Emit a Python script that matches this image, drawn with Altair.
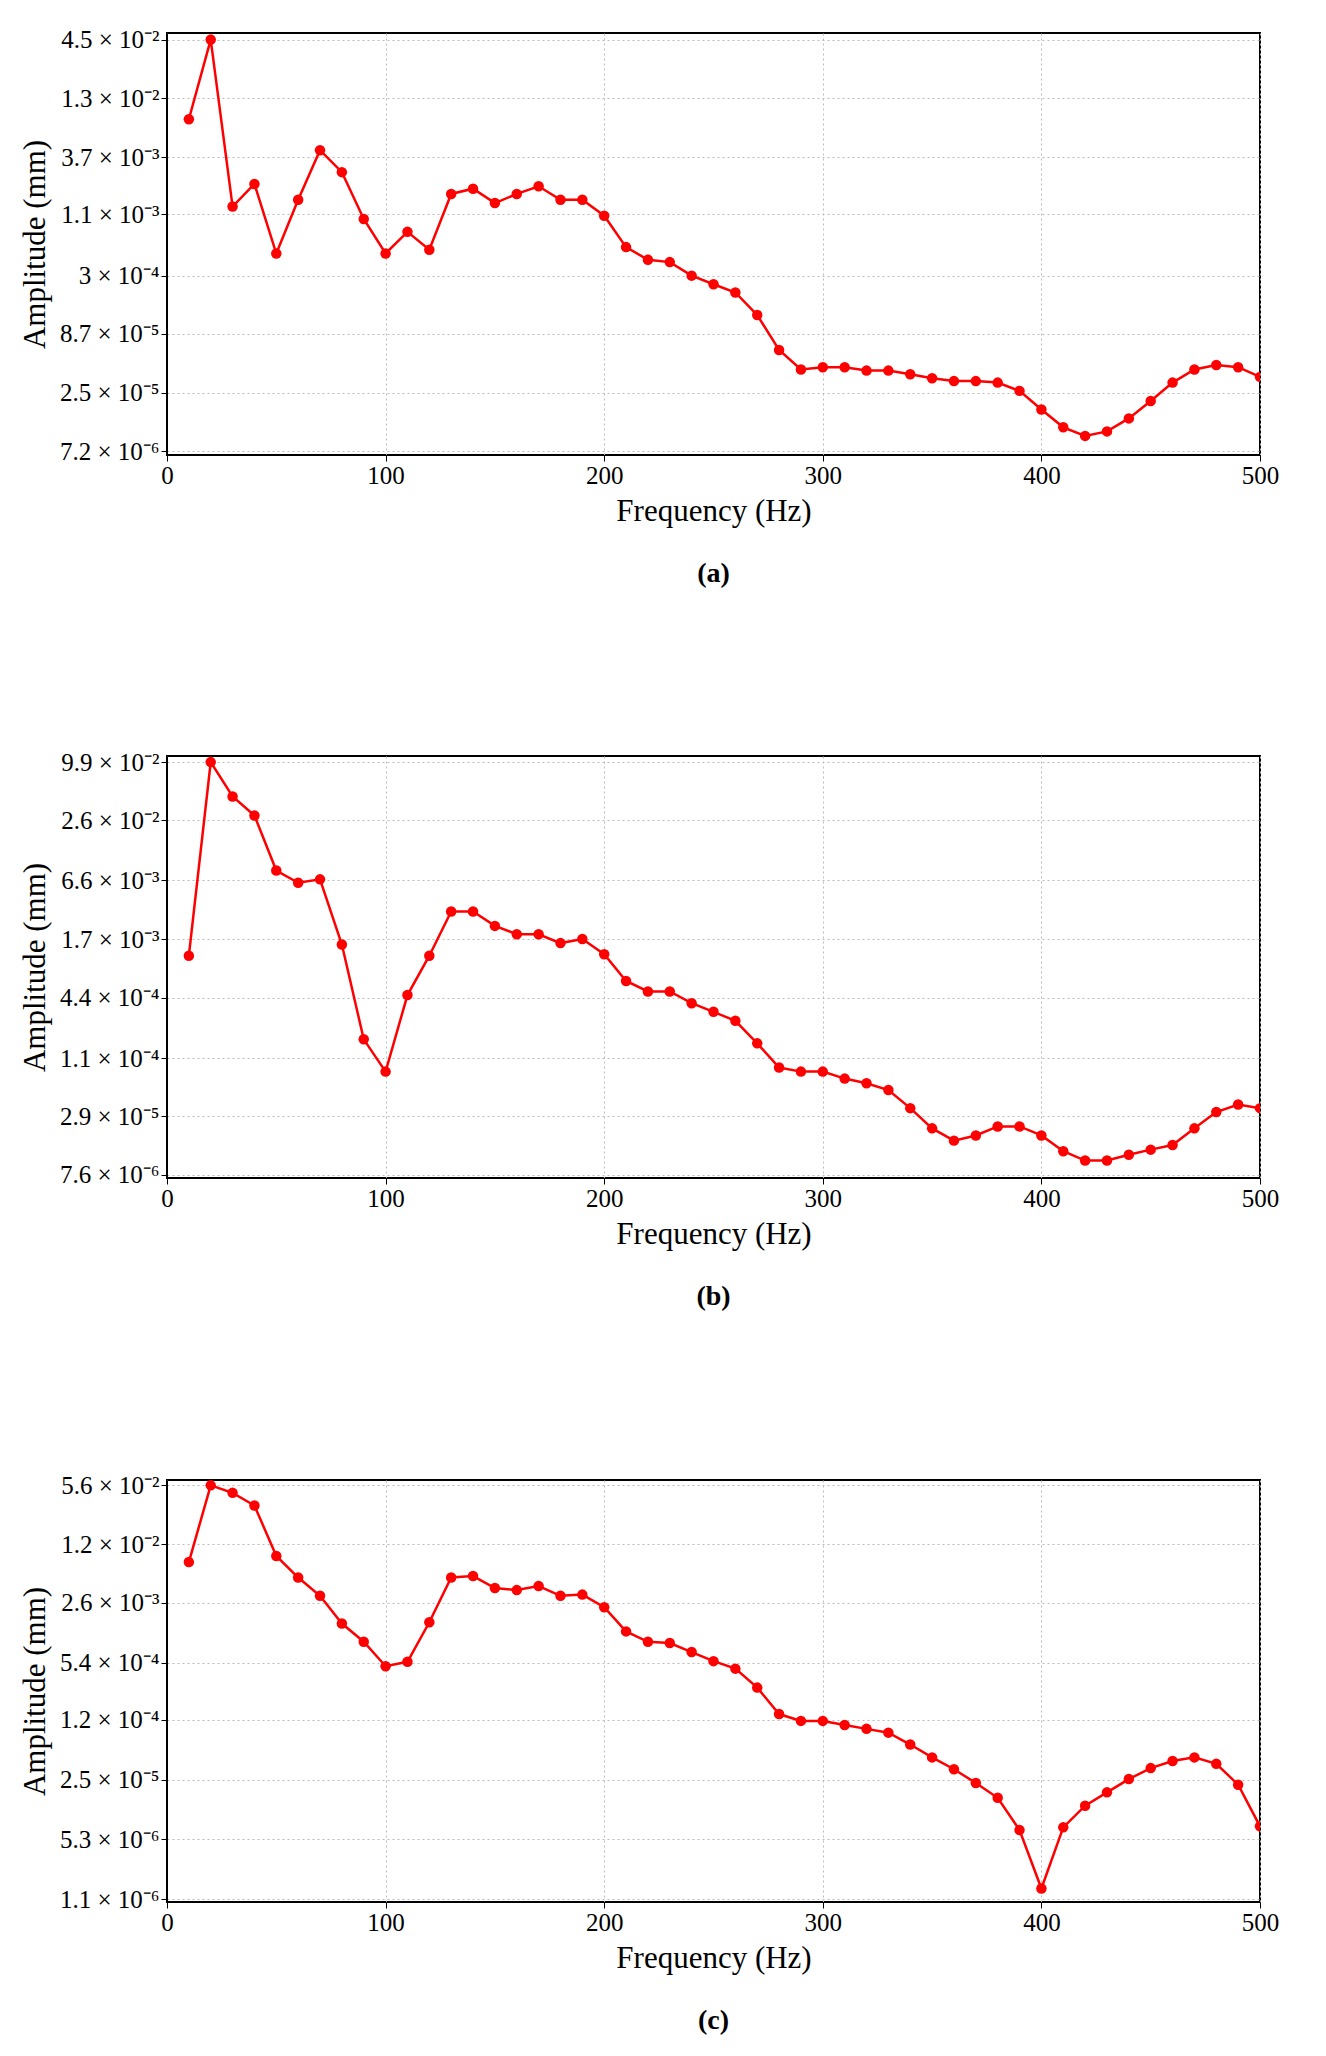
import altair as alt
import pandas as pd
import math

freq = list(range(10, 501, 10))

amp_a = [8.3e-3, 4.5e-2, 1.3e-3, 2.1e-3, 4.8e-4, 1.5e-3, 4.3e-3, 2.7e-3, 1.0e-3, 4.8e-4,
         7.6e-4, 5.2e-4, 1.7e-3, 1.9e-3, 1.4e-3, 1.7e-3, 2.0e-3, 1.5e-3, 1.5e-3, 1.07e-3,
         5.5e-4, 4.2e-4, 4.0e-4, 3.0e-4, 2.5e-4, 2.1e-4, 1.3e-4, 6.2e-5, 4.1e-5, 4.3e-5,
         4.3e-5, 4.0e-5, 4.0e-5, 3.7e-5, 3.4e-5, 3.2e-5, 3.2e-5, 3.1e-5, 2.6e-5, 1.75e-5,
         1.2e-5, 1.0e-5, 1.1e-5, 1.45e-5, 2.1e-5, 3.1e-5, 4.1e-5, 4.5e-5, 4.3e-5, 3.5e-5]
amp_b = [1.16e-3, 9.9e-2, 4.5e-2, 2.9e-2, 8.2e-3, 6.2e-3, 6.7e-3, 1.5e-3, 1.7e-4, 8.1e-5,
         4.7e-4, 1.16e-3, 3.2e-3, 3.2e-3, 2.3e-3, 1.9e-3, 1.9e-3, 1.55e-3, 1.7e-3, 1.2e-3,
         6.5e-4, 5.1e-4, 5.1e-4, 3.9e-4, 3.2e-4, 2.6e-4, 1.55e-4, 8.9e-5, 8.1e-5, 8.1e-5,
         6.9e-5, 6.2e-5, 5.3e-5, 3.5e-5, 2.2e-5, 1.66e-5, 1.87e-5, 2.3e-5, 2.3e-5, 1.87e-5,
         1.3e-5, 1.05e-5, 1.05e-5, 1.2e-5, 1.35e-5, 1.5e-5, 2.2e-5, 3.2e-5, 3.8e-5, 3.5e-5]
amp_c = [7.5e-3, 5.6e-2, 4.6e-2, 3.3e-2, 8.8e-3, 5.0e-3, 3.1e-3, 1.5e-3, 9.3e-4, 4.9e-4,
         5.5e-4, 1.55e-3, 5.0e-3, 5.2e-3, 3.8e-3, 3.6e-3, 4.0e-3, 3.1e-3, 3.2e-3, 2.3e-3,
         1.22e-3, 9.3e-4, 9.0e-4, 7.1e-4, 5.6e-4, 4.6e-4, 2.8e-4, 1.4e-4, 1.17e-4, 1.17e-4,
         1.05e-4, 9.5e-5, 8.6e-5, 6.3e-5, 4.5e-5, 3.3e-5, 2.3e-5, 1.56e-5, 6.7e-6, 1.45e-6,
         7.2e-6, 1.27e-5, 1.8e-5, 2.55e-5, 3.4e-5, 4.1e-5, 4.5e-5, 3.8e-5, 2.2e-5, 7.4e-6]

ticks_a = [7.2e-6, 2.5e-5, 8.7e-5, 3e-4, 1.1e-3, 3.7e-3, 1.3e-2, 4.5e-2]
labels_a = ["7.2 × 10⁻⁶", "2.5 × 10⁻⁵", "8.7 × 10⁻⁵", "3 × 10⁻⁴", "1.1 × 10⁻³", "3.7 × 10⁻³", "1.3 × 10⁻²", "4.5 × 10⁻²"]
ticks_b = [7.6e-6, 2.9e-5, 1.1e-4, 4.4e-4, 1.7e-3, 6.6e-3, 2.6e-2, 9.9e-2]
labels_b = ["7.6 × 10⁻⁶", "2.9 × 10⁻⁵", "1.1 × 10⁻⁴", "4.4 × 10⁻⁴", "1.7 × 10⁻³", "6.6 × 10⁻³", "2.6 × 10⁻²", "9.9 × 10⁻²"]
ticks_c = [1.1e-6, 5.3e-6, 2.5e-5, 1.2e-4, 5.4e-4, 2.6e-3, 1.2e-2, 5.6e-2]
labels_c = ["1.1 × 10⁻⁶", "5.3 × 10⁻⁶", "2.5 × 10⁻⁵", "1.2 × 10⁻⁴", "5.4 × 10⁻⁴", "2.6 × 10⁻³", "1.2 × 10⁻²", "5.6 × 10⁻²"]

FONT = "Liberation Serif"


def label_expr(ticks, labels):
    expr = "''"
    for t, l in zip(reversed(ticks), reversed(labels)):
        expr = f"abs(log(datum.value) - {math.log(t):.6f}) < 0.02 ? '{l}' : ({expr})"
    return expr


def panel(amp, ticks, labels, caption):
    df = pd.DataFrame({"f": freq, "a": amp})
    dom = [ticks[0] / 1.08, ticks[-1] * 1.15]
    x = alt.X("f:Q", title="Frequency (Hz)",
              scale=alt.Scale(domain=[0, 500], nice=False, zero=False),
              axis=alt.Axis(values=[0, 100, 200, 300, 400, 500], gridDash=[2, 3],
                            gridColor="#bbbbbb", tickSize=6, labelFlush=False))
    y = alt.Y("a:Q", title="Amplitude (mm)",
              scale=alt.Scale(type="log", domain=dom, nice=False),
              axis=alt.Axis(values=ticks, labelExpr=label_expr(ticks, labels),
                            gridDash=[2, 3], gridColor="#bbbbbb", tickSize=6, labelFlush=False))
    base = alt.Chart(df).encode(x=x, y=y)
    line = base.mark_line(color="#ff0000", strokeWidth=2.5, clip=True)
    pts = base.mark_circle(color="#ff0000", size=110, opacity=1, clip=True)
    return (line + pts).properties(
        width=1093, height=422,
        title=alt.TitleParams(caption, orient="bottom", font=FONT, fontSize=28,
                              fontWeight="bold", offset=34, color="black"))


chart = alt.vconcat(
    panel(amp_a, ticks_a, labels_a, "(a)"),
    panel(amp_b, ticks_b, labels_b, "(b)"),
    panel(amp_c, ticks_c, labels_c, "(c)"),
    spacing=160,
).configure_axis(
    labelFont=FONT, titleFont=FONT, labelFontSize=25, titleFontSize=31,
    titleFontWeight="normal", labelColor="black", titleColor="black",
    domainColor="black", tickColor="black", titlePadding=8,
).configure_view(stroke="black", strokeWidth=2).properties(
    padding={"left": 10, "top": 18, "right": 20, "bottom": 10})

chart.save("out.html", embed_options={"renderer": "svg", "actions": False})
